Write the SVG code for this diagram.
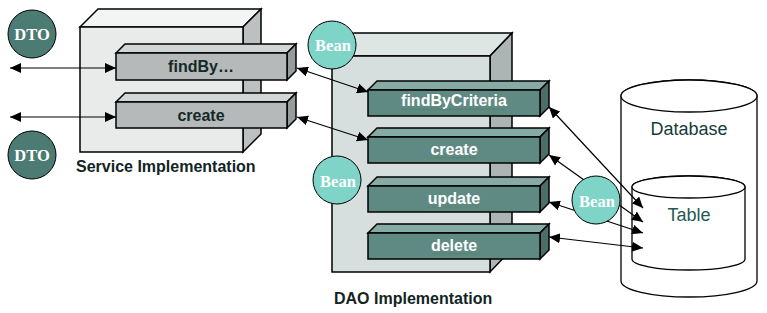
<svg xmlns="http://www.w3.org/2000/svg" width="767" height="313" viewBox="0 0 767 313">
  <style>
    .edge { stroke: #000; stroke-width: 1.5; stroke-linejoin: miter; }
    .svc-front { fill: #e9eaea; }
    .svc-top { fill: #f3f4f4; }
    .svc-side { fill: #bcc0c0; }
    .sm-front { fill: #b5b9b9; }
    .sm-top { fill: #d2d6d6; }
    .sm-side { fill: #969c9c; }
    .dao-front { fill: #d6dfdd; }
    .dao-top { fill: #dee6e4; }
    .dao-side { fill: #abb5b3; }
    .dm-front { fill: #5f8a83; }
    .dm-top { fill: #86aba5; }
    .dm-side { fill: #4b6f68; }
    .svc-label { font-family: "Liberation Sans", Arial, sans-serif; font-size: 16px; font-weight: bold; fill: #142828; text-anchor: middle; }
    .dao-label { font-family: "Liberation Sans", Arial, sans-serif; font-size: 16px; font-weight: bold; fill: #ffffff; text-anchor: middle; }
    .caption { font-family: "Liberation Sans", Arial, sans-serif; font-size: 16px; font-weight: bold; fill: #122424; }
    .db-label { font-family: "Liberation Sans", Arial, sans-serif; font-size: 18px; text-anchor: middle; }
    .dto { fill: #4b7b73; stroke: #000; stroke-width: 1; }
    .bean { fill: #7fd4c8; stroke: #000; stroke-width: 1; }
    .badge { font-family: "Liberation Serif", "Times New Roman", serif; font-size: 16.5px; font-weight: bold; fill: #ffffff; text-anchor: middle; }
    .link { stroke: #000; stroke-width: 1.2; fill: none; marker-start: url(#head); marker-end: url(#head); }
    .store { fill: #ffffff; stroke: #000; stroke-width: 1.3; }
  </style>
  <defs>
    <marker id="head" viewBox="0 0 11 10" refX="11" refY="5" markerWidth="11" markerHeight="10" markerUnits="userSpaceOnUse" orient="auto-start-reverse">
      <path d="M0,0 L11,5 L0,10 Z" fill="#000"/>
    </marker>
    <pattern id="squiggle" width="4" height="3" patternUnits="userSpaceOnUse">
      <path d="M0,2.5 L2,0.5 L4,2.5" fill="none" stroke="#4f7d5e" stroke-width="0.9"/>
    </pattern>
  </defs>

  <!-- Service Implementation block -->
  <g id="service-impl">
    <polygon class="svc-top edge" points="80,27 98,9 261,9 243,27"/>
    <polygon class="svc-side edge" points="243,27 261,9 261,134 243,152"/>
    <rect class="svc-front edge" x="80" y="27" width="163" height="125"/>
    <text class="caption" x="76" y="172">Service Implementation</text>
  </g>

  <g id="svc-findby">
    <polygon class="sm-top edge" points="116,53 125,44 296,44 287,53"/>
    <polygon class="sm-side edge" points="287,53 296,44 296,71 287,80"/>
    <rect class="sm-front edge" x="116" y="53" width="171" height="27"/>
    <text class="svc-label" x="201" y="72">findBy…</text>
  </g>

  <g id="svc-create">
    <polygon class="sm-top edge" points="116,102 125,93 296,93 287,102"/>
    <polygon class="sm-side edge" points="287,102 296,93 296,119 287,128"/>
    <rect class="sm-front edge" x="116" y="102" width="171" height="26"/>
    <text class="svc-label" x="201" y="121">create</text>
  </g>

  <!-- DAO Implementation block -->
  <g id="dao-impl">
    <polygon class="dao-top edge" points="332,56 354,33 512,33 490,56"/>
    <polygon class="dao-side edge" points="490,56 512,33 512,249 490,272"/>
    <rect class="dao-front edge" x="332" y="56" width="158" height="216"/>
    <text class="caption" x="334" y="304">DAO Implementation</text>
  </g>

  <g id="dao-findbycriteria">
    <polygon class="dm-top edge" points="368,90 377,81 549,81 540,90"/>
    <polygon class="dm-side edge" points="540,90 549,81 549,107 540,116"/>
    <rect class="dm-front edge" x="368" y="90" width="172" height="26"/>
    <text class="dao-label" x="454" y="106">findByCriteria</text>
    <rect x="401" y="107.5" width="104" height="3" fill="url(#squiggle)"/>
  </g>

  <g id="dao-create">
    <polygon class="dm-top edge" points="368,137 377,128 549,128 540,137"/>
    <polygon class="dm-side edge" points="540,137 549,128 549,154 540,163"/>
    <rect class="dm-front edge" x="368" y="137" width="172" height="26"/>
    <text class="dao-label" x="454" y="155">create</text>
    <rect x="430" y="156.5" width="47" height="3" fill="url(#squiggle)"/>
  </g>

  <g id="dao-update">
    <polygon class="dm-top edge" points="368,186 377,177 549,177 540,186"/>
    <polygon class="dm-side edge" points="540,186 549,177 549,203 540,212"/>
    <rect class="dm-front edge" x="368" y="186" width="172" height="26"/>
    <text class="dao-label" x="454" y="204">update</text>
    <rect x="427" y="205.5" width="52" height="3" fill="url(#squiggle)"/>
  </g>

  <g id="dao-delete">
    <polygon class="dm-top edge" points="368,233 377,224 549,224 540,233"/>
    <polygon class="dm-side edge" points="540,233 549,224 549,250 540,259"/>
    <rect class="dm-front edge" x="368" y="233" width="172" height="26"/>
    <text class="dao-label" x="454" y="251">delete</text>
    <rect x="432" y="252.5" width="45" height="3" fill="url(#squiggle)"/>
  </g>

  <!-- Database with nested table -->
  <g id="database">
    <path class="store" d="M621,96 A68,16 0 0 1 757,96 L757,281 A68,16 0 0 1 621,281 Z"/>
    <ellipse class="store" cx="689" cy="96" rx="68" ry="16"/>
    <text class="db-label" x="689" y="135" fill="#143c38">Database</text>
  </g>

  <g id="table">
    <path class="store" d="M632,187 A56.5,11 0 0 1 745,187 L745,259 A56.5,11 0 0 1 632,259 Z"/>
    <ellipse class="store" cx="688.5" cy="187" rx="56.5" ry="11"/>
    <text class="db-label" x="689" y="221" fill="#1f5a54">Table</text>
  </g>

  <!-- Connectors -->
  <g id="connectors">
    <line class="link" x1="10" y1="68" x2="116" y2="68"/>
    <line class="link" x1="10" y1="117" x2="116" y2="117"/>
    <line class="link" x1="297" y1="68" x2="368" y2="92"/>
    <line class="link" x1="297" y1="117" x2="368" y2="140"/>
    <line class="link" x1="549" y1="107" x2="643" y2="208"/>
    <line class="link" x1="549" y1="155" x2="643" y2="222"/>
    <line class="link" x1="549" y1="202" x2="643" y2="233"/>
    <line class="link" x1="549" y1="237" x2="643" y2="248"/>
  </g>

  <!-- Data carriers -->
  <g id="dto-top">
    <circle class="dto" cx="32" cy="34" r="24"/>
    <text class="badge" x="32" y="40">DTO</text>
  </g>
  <g id="dto-bottom">
    <circle class="dto" cx="32" cy="155" r="24"/>
    <text class="badge" x="32" y="161">DTO</text>
  </g>
  <g id="bean-top">
    <circle class="bean" cx="332" cy="45" r="24"/>
    <text class="badge" x="333" y="51">Bean</text>
  </g>
  <g id="bean-middle">
    <circle class="bean" cx="337" cy="180" r="24"/>
    <text class="badge" x="338" y="187">Bean</text>
  </g>
  <g id="bean-right">
    <circle class="bean" cx="596" cy="200" r="24"/>
    <text class="badge" x="597" y="207">Bean</text>
  </g>
</svg>
